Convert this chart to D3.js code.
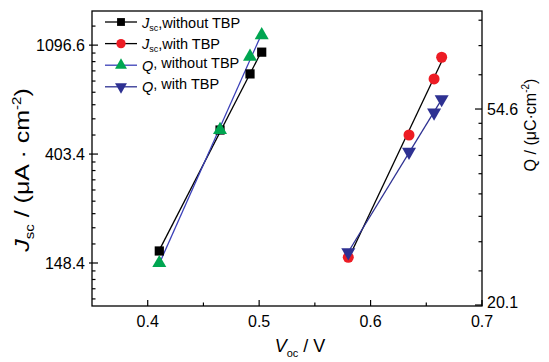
<!DOCTYPE html>
<html>
<head>
<meta charset="utf-8">
<script src="https://cdn.jsdelivr.net/npm/d3@7"></script>
<style>
  body { margin: 0; background: #fff; }
  svg text { font-family: "Liberation Sans", Arial, sans-serif; fill: #000; }
</style>
</head>
<body>
<div id="chart"></div>
<script>
const vocNoTBP = [0.4104, 0.4649, 0.4918, 0.5023];
const jscNoTBP = [165.7, 503, 842, 1028];
const qNoTBP = [24.9, 49.1, 71.3, 79.6];

const vocTBP = [0.580, 0.6345, 0.657, 0.6638];
const jscTBP = [156.4, 480.6, 804, 981];
const qTBP = [26.3, 43.9, 53.6, 57.4];

const xTicks = [0.4, 0.5, 0.6, 0.7];
const leftTicks = [148.4, 403.4, 1096.6];
const rightTicks = [20.1, 54.6];

const width = 549, height = 362;
const margin = { top: 11, right: 67, bottom: 56, left: 92 };
const x0 = margin.left, x1 = width - margin.right;
const y0 = height - margin.bottom, y1 = margin.top;

const svg = d3.select("#chart").append("svg")
    .attr("width", width)
    .attr("height", height);

const x = d3.scaleLinear().domain([0.35, 0.7]).range([x0, x1]);
const yL = d3.scaleLog().base(Math.E).domain([100, 1500]).range([y0, y1]);
const yR = d3.scaleLog().base(Math.E).domain([20, 90]).range([y0, y1]);

// Origin-style minor ticks: 8 linear steps between e^n and e^(n+1)
function minorTicks(scale) {
    const [lo, hi] = scale.domain();
    const out = [];
    for (let n = Math.floor(Math.log(lo)); n <= Math.ceil(Math.log(hi)); n++) {
        const a = Math.exp(n), b = Math.exp(n + 1);
        for (let k = 1; k <= 8; k++) {
            const v = a + k * (b - a) / 9;
            if (v > lo && v < hi) out.push(v);
        }
    }
    return out;
}

const axisColor = "#000";

// frame
svg.append("rect")
    .attr("x", x0).attr("y", y1)
    .attr("width", x1 - x0).attr("height", y0 - y1)
    .attr("fill", "none").attr("stroke", axisColor).attr("stroke-width", 1.3);

// bottom ticks
const xMinor = [0.45, 0.55, 0.65];
svg.selectAll(".xmaj").data(xTicks).enter().append("line")
    .attr("x1", d => x(d)).attr("x2", d => x(d))
    .attr("y1", y0).attr("y2", y0 - 6)
    .attr("stroke", axisColor).attr("stroke-width", 1.2);
svg.selectAll(".xmin").data(xMinor).enter().append("line")
    .attr("x1", d => x(d)).attr("x2", d => x(d))
    .attr("y1", y0).attr("y2", y0 - 3.5)
    .attr("stroke", axisColor).attr("stroke-width", 1.2);
svg.selectAll(".xlab").data(xTicks).enter().append("text")
    .attr("x", d => x(d)).attr("y", y0 + 21)
    .attr("text-anchor", "middle")
    .attr("font-size", 16)
    .text(d => d.toFixed(1));

// left ticks
svg.selectAll(".lmaj").data(leftTicks).enter().append("line")
    .attr("x1", x0 - 3).attr("x2", x0 + 6)
    .attr("y1", d => yL(d)).attr("y2", d => yL(d))
    .attr("stroke", axisColor).attr("stroke-width", 1.2);
svg.selectAll(".lmin").data(minorTicks(yL)).enter().append("line")
    .attr("x1", x0).attr("x2", x0 + 3.5)
    .attr("y1", d => yL(d)).attr("y2", d => yL(d))
    .attr("stroke", axisColor).attr("stroke-width", 1.2);
svg.selectAll(".llab").data(leftTicks).enter().append("text")
    .attr("x", x0 - 7).attr("y", d => yL(d))
    .attr("dy", "0.36em")
    .attr("text-anchor", "end")
    .attr("font-size", 16)
    .text(d => d.toFixed(1));

// right ticks
svg.selectAll(".rmaj").data(rightTicks).enter().append("line")
    .attr("x1", x1 - 7).attr("x2", x1)
    .attr("y1", d => yR(d)).attr("y2", d => yR(d))
    .attr("stroke", axisColor).attr("stroke-width", 1.2);
svg.selectAll(".rmin").data(minorTicks(yR)).enter().append("line")
    .attr("x1", x1 - 3.5).attr("x2", x1)
    .attr("y1", d => yR(d)).attr("y2", d => yR(d))
    .attr("stroke", axisColor).attr("stroke-width", 1.2);
svg.selectAll(".rlab").data(rightTicks).enter().append("text")
    .attr("x", x1 + 5).attr("y", d => Math.min(yR(d), y0 - 4))
    .attr("dy", "0.36em")
    .attr("font-size", 16)
    .text(d => d.toFixed(1));

// axis titles
const xt = svg.append("text")
    .attr("x", 300).attr("y", 352)
    .attr("text-anchor", "middle")
    .attr("font-size", 18);
xt.append("tspan").attr("font-style", "italic").text("V");
xt.append("tspan").attr("font-size", 11).attr("dy", 5).text("oc");
xt.append("tspan").attr("dy", -5).text(" / V");

const lt = svg.append("g").attr("transform", "translate(29,170) rotate(-90) scale(1.25,1)")
    .append("text").attr("text-anchor", "middle").attr("font-size", 20);
lt.append("tspan").attr("font-style", "italic").text("J");
lt.append("tspan").attr("font-size", 12).attr("dy", 5).text("sc");
lt.append("tspan").attr("dy", -5).text(" / (\u03bcA \u00b7 cm");
lt.append("tspan").attr("font-size", 12).attr("dy", -8).text("-2");
lt.append("tspan").attr("dy", 8).text(")");

const rt = svg.append("g").attr("transform", "translate(536,125) rotate(-90)")
    .append("text").attr("text-anchor", "middle").attr("font-size", 16);
rt.append("tspan").text("Q / (\u03bcC\u00b7cm");
rt.append("tspan").attr("font-size", 10).attr("dy", -7).text("-2");
rt.append("tspan").attr("dy", 7).text(")");

// semilog least-squares fit line for each series
function fitLine(xs, ys, yScale, color) {
    const pts = xs.map((v, i) => [v, Math.log(ys[i])]);
    const mx = d3.mean(pts, d => d[0]), my = d3.mean(pts, d => d[1]);
    const b = d3.sum(pts, d => (d[0] - mx) * (d[1] - my)) / d3.sum(pts, d => (d[0] - mx) ** 2);
    const a = my - b * mx;
    const ends = d3.extent(xs).map(v => [v, Math.exp(a + b * v)]);
    svg.append("path")
        .datum(ends)
        .attr("fill", "none")
        .attr("stroke", color)
        .attr("stroke-width", 1.3)
        .attr("d", d3.line().x(d => x(d[0])).y(d => yScale(d[1])));
}

const navy = "#2e3192";
const blue = "#3a3fb8";
fitLine(vocNoTBP, jscNoTBP, yL, "#000");
fitLine(vocNoTBP, qNoTBP, yR, blue);
fitLine(vocTBP, jscTBP, yL, "#000");
fitLine(vocTBP, qTBP, yR, navy);

const symSquare = d3.symbol().type(d3.symbolSquare).size(85);
const symCircle = d3.symbol().type(d3.symbolCircle).size(95);
const symTri = d3.symbol().type(d3.symbolTriangle).size(85);

function markers(xs, ys, yScale, sym, color, rot) {
    svg.selectAll(null).data(xs).enter().append("path")
        .attr("d", sym)
        .attr("transform", (d, i) => `translate(${x(d)},${yScale(ys[i])}) rotate(${rot})`)
        .attr("fill", color);
}

markers(vocNoTBP, jscNoTBP, yL, symSquare, "#000", 0);
markers(vocNoTBP, qNoTBP, yR, symTri, "#00a651", 0);
markers(vocTBP, jscTBP, yL, symCircle, "#ed1c24", 0);
markers(vocTBP, qTBP, yR, symTri, navy, 180);

// legend
const legend = [
    { sym: symSquare, color: "#000", line: "#000", rot: 0, name: "J", sub: "sc", rest: ",without TBP" },
    { sym: symCircle, color: "#ed1c24", line: "#000", rot: 0, name: "J", sub: "sc", rest: ",with TBP" },
    { sym: symTri, color: "#00a651", line: blue, rot: 0, name: "Q", sub: "", rest: ", without TBP" },
    { sym: symTri, color: navy, line: navy, rot: 180, name: "Q", sub: "", rest: ", with TBP" }
];
const lg = svg.selectAll(".lg").data(legend).enter().append("g")
    .attr("transform", (d, i) => `translate(105,${22 + i * 21.6})`);
lg.append("line").attr("x1", 0).attr("x2", 32).attr("y1", 0).attr("y2", 0)
    .attr("stroke", d => d.line).attr("stroke-width", 1.3);
lg.append("path").attr("d", d => d.sym())
    .attr("transform", d => `translate(16,0) rotate(${d.rot}) scale(0.85)`)
    .attr("fill", d => d.color);
const lgt = lg.append("text").attr("x", 37).attr("y", 5.5).attr("font-size", 14.5);
lgt.append("tspan").attr("font-style", "italic").text(d => d.name);
lgt.append("tspan").attr("font-size", 9).attr("dy", 3).text(d => d.sub);
lgt.append("tspan").attr("dy", -3).text(d => d.rest);
</script>
</body>
</html>
